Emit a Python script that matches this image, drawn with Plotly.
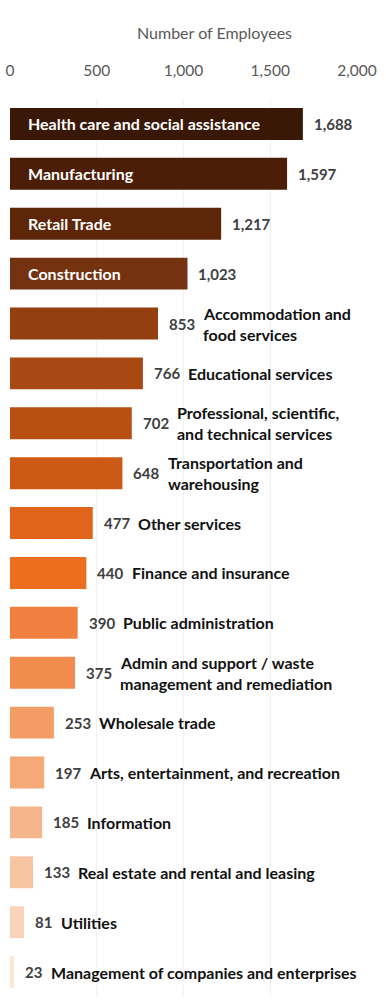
import plotly.graph_objects as go

categories = [
    "Health care and social assistance",
    "Manufacturing",
    "Retail Trade",
    "Construction",
    "Accommodation and\nfood services",
    "Educational services",
    "Professional, scientific,\nand technical services",
    "Transportation and\nwarehousing",
    "Other services",
    "Finance and insurance",
    "Public administration",
    "Admin and support / waste\nmanagement and remediation",
    "Wholesale trade",
    "Arts, entertainment, and recreation",
    "Information",
    "Real estate and rental and leasing",
    "Utilities",
    "Management of companies and enterprises",
]
values = [1688, 1597, 1217, 1023, 853, 766, 702, 648, 477, 440, 390, 375, 253, 197, 185, 133, 81, 23]
colors = [
    "#3a1808", "#4c1e08", "#5e2608", "#753210", "#943f10", "#a84812",
    "#b85014", "#cc5a16", "#e0641a", "#ee6e20", "#f08040", "#f28c4e",
    "#f39c64", "#f5a878", "#f6b68c", "#f7c4a2", "#f9d4ba", "#fbe6d8",
]
inside_count = 4
tick_vals = [0, 500, 1000, 1500, 2000]
tick_text = ["0", "500", "1,000", "1,500", "2,000"]

keys = [c.replace("\n", " ") for c in categories]

fig = go.Figure(go.Bar(
    x=values, y=keys, orientation="h",
    marker=dict(color=colors, line=dict(width=0)),
    hoverinfo="skip", cliponaxis=False,
))

font = "Lato, 'Open Sans', sans-serif"
H, T, B = 1005, 99, 8
ann = []
for i, (cat, key, v) in enumerate(zip(categories, keys, values)):
    vtxt = f"{v:,}"
    ann.append(dict(x=v, y=key, xref="x", yref="y", text=f"<b>{vtxt}</b>",
                    xanchor="left", yanchor="middle", xshift=9, showarrow=False,
                    font=dict(family=font, size=15, color="#404040")))
    if i < inside_count:
        ann.append(dict(x=0, y=key, xref="x", yref="y", text=f"<b>{cat}</b>",
                        xanchor="left", yanchor="middle", xshift=16, showarrow=False,
                        font=dict(family=font, size=16, color="white")))
    else:
        lines = cat.split("\n")
        w = 8.4 * len(vtxt)
        n = len(lines)
        for j, line in enumerate(lines):
            ann.append(dict(x=v, y=key, xref="x", yref="y", text=f"<b>{line}</b>",
                            xanchor="left", yanchor="middle",
                            xshift=9 + w + 9,
                            yshift=(n - 1) * 10.5 - j * 21, showarrow=False,
                            font=dict(family=font, size=16, color="#111111")))

ann.append(dict(x=0.588, y=1 + (T - 33) / (H - T - B), xref="paper", yref="paper",
                text="Number of Employees",
                showarrow=False, xanchor="center", yanchor="middle",
                font=dict(family=font, size=16, color="#595959")))

fig.update_layout(
    width=386, height=H,
    margin=dict(l=10, r=29, t=T, b=B, autoexpand=False),
    paper_bgcolor="white", plot_bgcolor="white",
    bargap=0.36,
    showlegend=False,
    annotations=ann,
    xaxis=dict(side="top", range=[0, 2000], tickvals=tick_vals, ticktext=tick_text,
               showgrid=True, gridcolor="#f1f1f1", zeroline=False, showline=False,
               ticks="", ticklabelstandoff=19, automargin=False,
               tickfont=dict(family=font, size=15.5, color="#595959")),
    yaxis=dict(autorange="reversed", showticklabels=False, showgrid=False,
               zeroline=False, showline=False, ticks="", automargin=False),
)

fig.write_html("out.html", config={"displayModeBar": False},
               post_script="document.body.style.margin='0';document.body.style.padding='0';")
